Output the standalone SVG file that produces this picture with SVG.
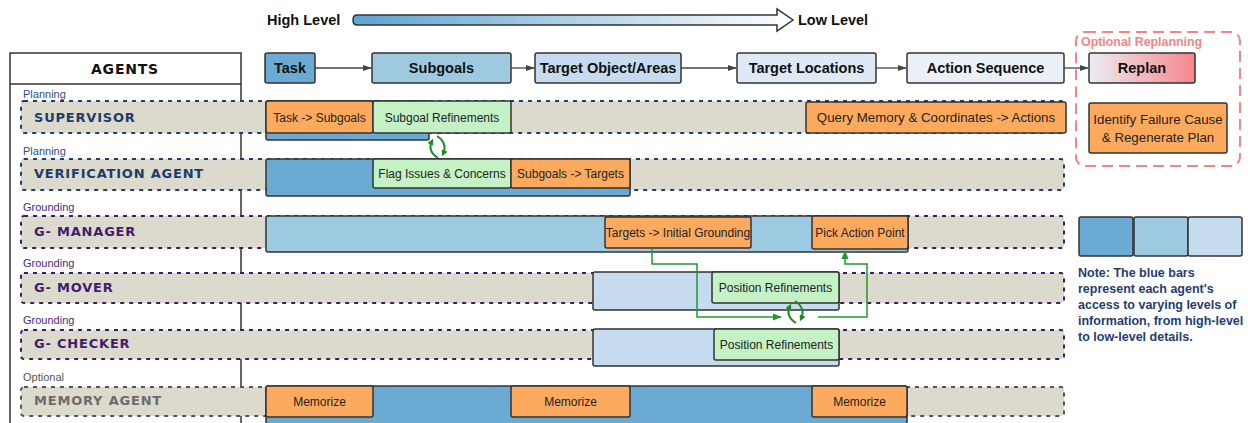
<svg xmlns="http://www.w3.org/2000/svg" width="1248" height="423" viewBox="0 0 1248 423">
<defs>
<linearGradient id="gLevel" x1="0" y1="0" x2="1" y2="0">
<stop offset="0" stop-color="#5fa3d0"/><stop offset="1" stop-color="#ffffff"/>
</linearGradient>
<linearGradient id="gReplan" x1="0" y1="0" x2="1" y2="0">
<stop offset="0" stop-color="#e9edf4"/><stop offset="1" stop-color="#f7868c"/>
</linearGradient>
<marker id="ah" viewBox="0 0 10 10" refX="9" refY="5" markerWidth="7" markerHeight="7" orient="auto">
<path d="M0,1.5 L10,5 L0,8.5 z" fill="#444"/>
</marker>
<marker id="gh" viewBox="0 0 10 10" refX="9" refY="5" markerWidth="6" markerHeight="6" orient="auto">
<path d="M0,1 L10,5 L0,9 z" fill="#1f9a2a"/>
</marker>
<marker id="gh2" viewBox="0 0 10 10" refX="6" refY="5" markerWidth="3.2" markerHeight="3.2" orient="auto">
<path d="M0,0 L10,5 L0,10 z" fill="#1f8a24"/>
</marker>
</defs>
<style>
.bold{font-family:"Liberation Sans",Arial,sans-serif;font-weight:bold;fill:#111}
.top{stroke:#333;stroke-width:1.5}
.t14{font-size:14.5px;text-anchor:middle}
.bx{stroke:#333;stroke-width:1.5}
.or{fill:#fdaa5e}
.gr{fill:#c4f2c4}
.b1{fill:#6aaad3}
.b2{fill:#9ecae1}
.b3{fill:#c6dbef}
.lbl{font-family:"Liberation Sans",Arial,sans-serif;font-size:12px;fill:#222;text-anchor:middle}
.row{fill:#dcdacd;stroke-width:2;stroke-dasharray:4 5}
.rp{stroke:#1f3d70}
.rg{stroke:#3c1a70}
.rm{stroke:#555}
.agent{font-family:"DejaVu Sans",Verdana,sans-serif;font-weight:bold;font-variant:all-small-caps;font-size:18.5px;letter-spacing:0.8px}
.cat{font-family:"Liberation Sans",Arial,sans-serif;font-size:11px}
.note{font-family:"Liberation Sans",Arial,sans-serif;font-weight:bold;font-size:12.5px;fill:#1f3d70}
.gl{fill:none;stroke:#1f9a2a;stroke-width:1.5}
.cyc{fill:none;stroke:#1f8a24;stroke-width:2}
</style>

<g id="level-scale">
<text class="bold" x="267" y="25" font-size="14.5">High Level</text>
<path d="M357,15 L777,15 L777,9 L793,20 L777,31 L777,25 L357,25 Q353,25 353,20 Q353,15 357,15 Z" fill="url(#gLevel)" stroke="#333" stroke-width="1.5"/>
<text class="bold" x="798" y="25" font-size="14.5">Low Level</text>
</g>

<g id="agents-panel">
<rect x="10" y="53" width="231" height="390" fill="#fff" stroke="#333" stroke-width="1.5"/>
<line x1="10" y1="84" x2="241" y2="84" stroke="#333" stroke-width="1.5"/>
<text class="agent" x="125" y="74" text-anchor="middle" fill="#111" style="font-size:20px">AGENTS</text>
</g>

<g id="task"><rect class="top b1" x="265" y="53" width="50" height="30" rx="2"/><text class="bold t14" x="290" y="73">Task</text></g>
<g id="subgoals"><rect class="top b2" x="372" y="53" width="139" height="30" rx="2"/><text class="bold t14" x="441.5" y="73">Subgoals</text></g>
<g id="target-object"><rect class="top b3" x="535" y="53" width="146" height="30" rx="2"/><text class="bold t14" x="608" y="73">Target Object/Areas</text></g>
<g id="target-locations"><rect class="top" fill="#ddeaf6" x="737" y="53" width="139" height="30" rx="2"/><text class="bold t14" x="806.5" y="73">Target Locations</text></g>
<g id="action-sequence"><rect class="top" fill="#ebf0f7" x="907" y="53" width="157" height="30" rx="2"/><text class="bold t14" x="985.5" y="73">Action Sequence</text></g>

<g id="optional-replanning">
<rect x="1076" y="32" width="164" height="134" rx="9" fill="none" stroke="#f28585" stroke-width="2" stroke-dasharray="11 6"/>
<text x="1081" y="46" font-family="Liberation Sans,Arial,sans-serif" font-weight="bold" font-size="12.4" fill="#f28585">Optional Replanning</text>
</g>
<g id="replan"><rect class="top" fill="url(#gReplan)" x="1089" y="53" width="106" height="30" rx="2"/><text class="bold t14" x="1142" y="73">Replan</text></g>
<g id="identify-failure"><rect class="bx or" x="1089" y="103" width="138" height="50" rx="2"/>
<text class="lbl" x="1158" y="124" style="font-size:13.3px">Identify Failure Cause</text>
<text class="lbl" x="1158" y="142" style="font-size:13.3px">&amp; Regenerate Plan</text></g>

<g id="row-supervisor">
<text class="cat" x="23" y="98" fill="#2c4f8f">Planning</text>
<rect class="row rp" x="21" y="101" width="1043" height="32" rx="3"/>
<text class="agent" x="34" y="122" fill="#1d3b6e">supervisor</text>
<rect class="bx b1" x="266" y="101" width="163" height="39" rx="2"/>
<rect class="bx or" x="266" y="101" width="107" height="32" rx="2"/>
<text class="lbl" x="319.5" y="122">Task -&gt; Subgoals</text>
<rect class="bx gr" x="373" y="101" width="138" height="32" rx="2"/>
<text class="lbl" x="442" y="122">Subgoal Refinements</text>
<rect class="bx or" x="806" y="102" width="260" height="31" rx="2"/>
<text class="lbl" x="936" y="122" style="font-size:13.3px">Query Memory &amp; Coordinates -&gt; Actions</text>
</g>

<g id="row-verification">
<text class="cat" x="23" y="155" fill="#2c4f8f">Planning</text>
<rect class="row rp" x="21" y="159" width="1043" height="31" rx="3"/>
<text class="agent" x="34" y="178" fill="#1d3b6e">verification agent</text>
<rect class="bx b1" x="266" y="159" width="364" height="37" rx="2"/>
<rect class="bx gr" x="373" y="159" width="138" height="29" rx="2"/>
<text class="lbl" x="442" y="178">Flag Issues &amp; Concerns</text>
<rect class="bx or" x="511" y="159" width="119" height="29" rx="2"/>
<text class="lbl" x="570.5" y="178">Subgoals -&gt; Targets</text>
</g>

<g id="row-gmanager">
<text class="cat" x="23" y="211" fill="#4a2a80">Grounding</text>
<rect class="row rg" x="21" y="216" width="1043" height="32" rx="3"/>
<text class="agent" x="34" y="236" fill="#3f1d6e">G- Manager</text>
<rect class="bx b2" x="266" y="216" width="642" height="36" rx="2"/>
<rect class="bx or" x="605" y="217" width="146" height="31" rx="2"/>
<text class="lbl" x="678" y="237">Targets -&gt; Initial Grounding</text>
<rect class="bx or" x="812" y="216" width="96" height="33" rx="2"/>
<text class="lbl" x="860" y="237">Pick Action Point</text>
</g>

<g id="row-gmover">
<text class="cat" x="23" y="267" fill="#4a2a80">Grounding</text>
<rect class="row rg" x="21" y="273" width="1043" height="30" rx="3"/>
<text class="agent" x="34" y="292" fill="#3f1d6e">G- Mover</text>
<rect class="bx b3" x="593" y="272" width="246" height="38" rx="2"/>
<rect class="bx gr" x="712" y="272" width="127" height="31" rx="2"/>
<text class="lbl" x="775.5" y="292">Position Refinements</text>
</g>

<g id="row-gchecker">
<text class="cat" x="23" y="324" fill="#4a2a80">Grounding</text>
<rect class="row rg" x="21" y="330" width="1043" height="29" rx="3"/>
<text class="agent" x="34" y="348" fill="#3f1d6e">G- checker</text>
<rect class="bx b3" x="593" y="329" width="246" height="37" rx="2"/>
<rect class="bx gr" x="714" y="329" width="125" height="31" rx="2"/>
<text class="lbl" x="776.5" y="349">Position Refinements</text>
</g>

<g id="row-memory">
<text class="cat" x="23" y="381" fill="#555">Optional</text>
<rect class="row rm" x="21" y="387" width="1043" height="29" rx="3"/>
<text class="agent" x="34" y="405" fill="#6b6b6b">Memory Agent</text>
<rect class="bx b1" x="266" y="386" width="641" height="45" rx="2"/>
<rect class="bx or" x="266" y="386" width="107" height="31" rx="2"/>
<text class="lbl" x="319.5" y="406">Memorize</text>
<rect class="bx or" x="511" y="386" width="119" height="31" rx="2"/>
<text class="lbl" x="570.5" y="406">Memorize</text>
<rect class="bx or" x="812" y="386" width="95" height="31" rx="2"/>
<text class="lbl" x="859.5" y="406">Memorize</text>
</g>

<g id="legend">
<rect class="bx b1" x="1079" y="217" width="54" height="39" rx="2"/>
<rect class="bx b2" x="1134" y="217" width="54" height="39" rx="2"/>
<rect class="bx b3" x="1188" y="217" width="54" height="39" rx="2"/>
<text class="note" x="1078" y="277">Note: The blue bars</text>
<text class="note" x="1078" y="293">represent each agent's</text>
<text class="note" x="1078" y="309">access to varying levels of</text>
<text class="note" x="1078" y="325">information, from high-level</text>
<text class="note" x="1078" y="341">to low-level details.</text>
</g>

<g id="connectors">
<line x1="315" y1="68" x2="371" y2="68" stroke="#444" stroke-width="1.3" marker-end="url(#ah)"/>
<line x1="511" y1="68" x2="534" y2="68" stroke="#444" stroke-width="1.3" marker-end="url(#ah)"/>
<line x1="681" y1="68" x2="736" y2="68" stroke="#444" stroke-width="1.3" marker-end="url(#ah)"/>
<line x1="876" y1="68" x2="906" y2="68" stroke="#444" stroke-width="1.3" marker-end="url(#ah)"/>
<line x1="1064" y1="68" x2="1088" y2="68" stroke="#444" stroke-width="1.3" marker-end="url(#ah)"/>
<path class="gl" d="M652,248 L652,264 L697,264 L697,317 L781,317" marker-end="url(#gh)"/>
<path class="gl" d="M818,317 L867,317 L867,264 L845,264 L845,251" marker-end="url(#gh)"/>
<path class="cyc" d="M438,158 Q427,151 432,141" marker-end="url(#gh2)"/>
<path class="cyc" d="M437,136 Q448,143 443,154" marker-end="url(#gh2)"/>
<path class="cyc" d="M796,323 Q785,316 790,306" marker-end="url(#gh2)"/>
<path class="cyc" d="M795,301 Q806,308 801,319" marker-end="url(#gh2)"/>
</g>
</svg>
